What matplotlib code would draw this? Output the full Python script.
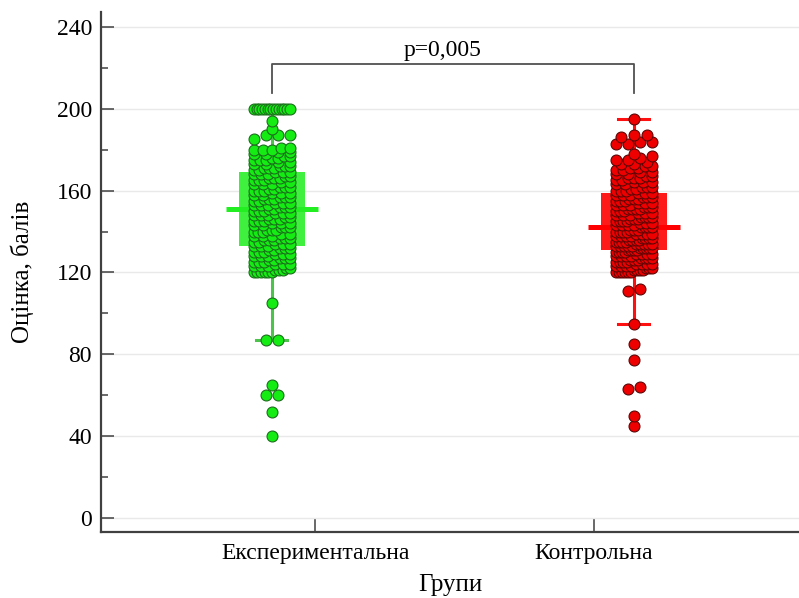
import matplotlib
matplotlib.use('Agg')
import matplotlib.pyplot as plt
from matplotlib.ticker import MultipleLocator
import numpy as np

plt.rcParams['font.family'] = ['Liberation Serif', 'DejaVu Serif']

groups = ['Експериментальна', 'Контрольна']
group_x = [1, 2]
tick_x = [1.12, 1.89]

# experimental group: score -> number of pupils
exp_scores = [40, 52, 60, 65, 87, 105,
              120, 121, 122, 123, 124, 125, 126, 127, 128, 129,
              130, 131, 132, 133, 134, 135, 136, 137, 138, 139,
              140, 141, 142, 143, 144, 145, 146, 147, 148, 149,
              150, 151, 152, 153, 154, 155, 156, 157, 158, 159,
              160, 161, 162, 163, 164, 165, 166, 167, 168, 169,
              170, 171, 172, 173, 174, 175, 176, 177, 178, 179,
              180, 181, 185, 187, 190, 194, 200]
exp_counts = [1, 1, 2, 1, 2, 1,
              6, 3, 2, 3, 3, 3, 2, 3, 3, 3,
              3, 2, 3, 3, 3, 2, 3, 3, 3, 2,
              3, 3, 3, 2, 3, 3, 3, 2, 3, 3,
              3, 2, 3, 3, 3, 2, 3, 3, 2, 3,
              3, 2, 3, 3, 2, 3, 3, 2, 3, 3,
              2, 3, 3, 2, 2, 3, 2, 2, 2, 2,
              3, 2, 1, 3, 1, 1, 14]

# control group
ctrl_scores = [45, 50, 63, 64, 77, 85, 95, 111, 112,
               120, 121, 122, 123, 124, 125, 126, 127, 128, 129,
               130, 131, 132, 133, 134, 135, 136, 137, 138, 139,
               140, 141, 142, 143, 144, 145, 146, 147, 148, 149,
               150, 151, 152, 153, 154, 155, 156, 157, 158, 159,
               160, 161, 162, 163, 164, 165, 166, 167, 168, 169,
               170, 171, 172, 173, 174, 175, 176, 177, 178,
               183, 184, 186, 187, 195]
ctrl_counts = [1, 1, 1, 1, 1, 1, 1, 1, 1,
               6, 4, 3, 4, 4, 4, 3, 4, 4, 4,
               4, 4, 5, 5, 5, 4, 4, 4, 4, 4,
               4, 3, 4, 4, 3, 4, 3, 4, 3, 3,
               3, 4, 3, 3, 3, 3, 3, 3, 3, 3,
               3, 2, 3, 2, 3, 2, 3, 2, 2, 2,
               2, 2, 2, 2, 1, 2, 1, 1, 1,
               2, 2, 1, 2, 1]

# box = quartiles, bar = median, whiskers
q1 = [133, 131]
q3 = [169, 159]
mid = [151, 142]
whisk_lo = [87, 95]
whisk_hi = [200, 195]
p_label = 'p=0,005'

fill = ['#14ec14', '#ee0000']
edge = ['#1c6f1c', '#5e0505']
box_col = ['#3ff03f', '#ff1a1a']
mid_col = ['#22ee22', '#ff0000']
wh_col = ['#4cc44c', '#ff1010']


def swarm(ax, xc, values, bin_h=2.5, width=36.0, gap=12.6):
    # points binned into rows, each row spread across the column
    t = ax.transData.transform
    sx = t((1, 0))[0] - t((0, 0))[0]
    vals = np.sort(np.asarray(values, float))
    rows = np.floor(vals / bin_h)
    xs = np.empty(len(vals))
    for r in np.unique(rows):
        idx = np.where(rows == r)[0]
        n = len(idx)
        step = min(gap, width / max(n - 1, 1))
        xs[idx] = xc + (np.arange(n) - (n - 1) / 2) * step / sx
    return xs, vals


fig = plt.figure(figsize=(7.99, 5.98), dpi=100)
ax = fig.add_axes([101 / 799, 66 / 598, 698 / 799, 520 / 598])
ax.set_xlim(0.528, 2.456)
ax.set_ylim(-6.84, 247.3)

data = [np.repeat(exp_scores, exp_counts), np.repeat(ctrl_scores, ctrl_counts)]

for i, xc in enumerate(group_x):
    ax.plot([xc, xc], [whisk_lo[i], whisk_hi[i]], color=wh_col[i], lw=2.2, zorder=2)
    for yv in (whisk_lo[i], whisk_hi[i]):
        ax.plot([xc - 0.043, xc + 0.043], [yv, yv], color=wh_col[i], lw=2.2, zorder=2)
    ax.bar(xc, q3[i] - q1[i], bottom=q1[i], width=0.182, color=box_col[i], zorder=3)
    ax.plot([xc - 0.128, xc + 0.128], [mid[i], mid[i]], color=mid_col[i],
            lw=3.6, solid_capstyle='butt', zorder=4)
    x, y = swarm(ax, xc, data[i])
    ax.scatter(x, y, s=62, c=fill[i], edgecolors=edge[i], linewidths=0.8, zorder=5)

# significance bracket
ax.plot([1, 1, 2, 2], [207.5, 221.8, 221.8, 207.5], color='#505050', lw=1.3, zorder=6)
ax.text(1.472, 226, p_label, ha='center', va='baseline', fontsize=17)

ax.set_xticks(tick_x)
ax.set_xticklabels(groups)
ax.set_yticks(range(0, 241, 40))
ax.yaxis.set_minor_locator(MultipleLocator(20))
ax.tick_params(direction='in', length=9.5, width=1.1, color='#404040',
               labelsize=17, pad=6.5)
ax.tick_params(axis='x', pad=8)
ax.tick_params(which='minor', direction='in', length=5, width=1.1, color='#404040')

ax.set_axisbelow(True)
ax.yaxis.grid(True, color='#e9e9e9', lw=1)
for s in ('top', 'right'):
    ax.spines[s].set_visible(False)
for s in ('left', 'bottom'):
    ax.spines[s].set_color('#404040')
    ax.spines[s].set_linewidth(1.6)

ax.set_ylabel('Оцінка, балів', fontsize=18)
ax.yaxis.set_label_coords(-0.096, 0.5)
ax.set_xlabel('Групи', fontsize=18, labelpad=7)

fig.savefig('out.png', dpi=100)
plt.close(fig)
